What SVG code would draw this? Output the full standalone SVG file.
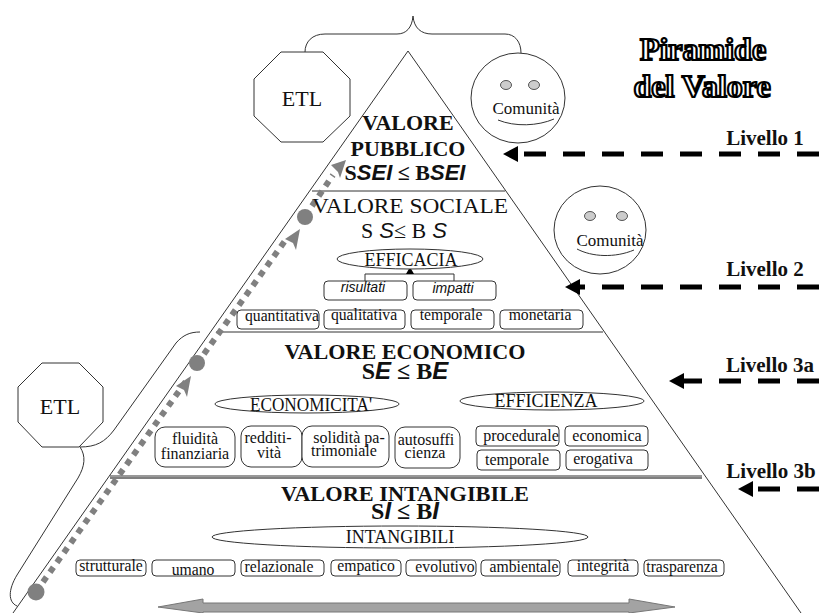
<svg xmlns="http://www.w3.org/2000/svg" width="819" height="613" viewBox="0 0 819 613">
<style>
text{font-family:"Liberation Serif","Times New Roman",serif;fill:#111;text-anchor:middle}
.s{font-family:"Liberation Sans",Arial,sans-serif;font-style:italic}
.b{font-weight:bold}
.l{fill:none;stroke:#333;stroke-width:1}
.n{fill:#fff;stroke:#333;stroke-width:1}
.box{fill:#fff;stroke:#333;stroke-width:1}
.t14{font-size:14px}.t15{font-size:15.7px}.t16{font-size:16px}.t18{font-size:18px}.t21{font-size:21px}.t22{font-size:22px}.t24{font-size:24px}
.eye{fill:#ccc;stroke:#555;stroke-width:1}
.dot{fill:none;stroke:#808080;stroke-width:6;stroke-dasharray:6 6}
.g{fill:#808080}
.dash{stroke:#000;stroke-width:5;stroke-dasharray:22 17;fill:none}
.title{font-size:32px;font-weight:bold;fill:#fff;stroke:#000;stroke-width:2.2}
.lv{font-size:21px;font-weight:bold}
</style>
<g id="connectors">
<path class="l" d="M408 51L13 613M408 51L801 613M312 191H505M216 332H603M110 476H702"/>
<path d="M110 478H702" stroke="#555" stroke-width="1.5" fill="none"/>
<path class="l" d="M305 52C305 42 312 34 325 34H397C406 34 412 28 413 16C414 28 421 34 432 34H505C515 34 521 42 521 53"/>
<path class="l" d="M80 447C96 447 105 442 114 430L176 343C183 335 190 332 200 332"/>
<path class="l" d="M80 447C86 456 85 466 78 478L17 575C8 590 8 602 17 606"/>
<path class="dot" d="M43 582L189 377M204 354L287 238M312 206L333 175"/>
<path class="g" d="M191 376L176 386L184 390L187 397Z"/>
<path class="g" d="M300 229L285 239L293 243L296 250Z"/>
<path class="g" d="M346 160L331 165L338 172L340 178Z"/>
<circle class="g" cx="36" cy="592" r="8.5"/>
<circle class="g" cx="197" cy="363" r="8"/>
<circle class="g" cx="305" cy="217" r="8"/>
<path class="dash" d="M819 154H516M819 287H578M819 381H682M819 489H750"/>
<path d="M503 154L518 146V162ZM565 287L580 279V295ZM669 381L684 373V389ZM738 489L753 481V497Z"/>
<path d="M158 607L203 599V603H629V599L675 607L629 613V612H203V613Z" fill="#a3a3a3" stroke="#777" stroke-width="1"/>
<path class="l" d="M365 283V274H454V283M409 274V270"/>
<path d="M410 267L406 274H414Z"/>
</g>
<g id="title"><text class="title" x="703" y="60">Piramide</text><text class="title" x="702" y="97">del Valore</text></g>
<g id="levels">
<text class="lv" x="765" y="145">Livello 1</text>
<text class="lv" x="765" y="276">Livello 2</text>
<text class="lv" x="770" y="372">Livello 3a</text>
<text class="lv" x="771" y="478">Livello 3b</text>
</g>
<g id="etl1"><path class="n" d="M281 52H323L350 79V116L323 142H281L254 116V79Z"/><text class="t22" x="302" y="106">ETL</text></g>
<g id="comunita1"><ellipse class="n" cx="518" cy="98" rx="47" ry="45"/><ellipse class="eye" cx="506" cy="85" rx="5.5" ry="4.5"/><ellipse class="eye" cx="534" cy="85" rx="5.5" ry="4.5"/><path class="l" d="M498 120C515 127 538 126 554 119"/><text class="t16" x="526" y="114" textLength="67" lengthAdjust="spacingAndGlyphs">Comunità</text></g>
<g id="comunita2"><ellipse class="n" cx="600" cy="230" rx="46" ry="44"/><ellipse class="eye" cx="590" cy="216" rx="5.5" ry="4.5"/><ellipse class="eye" cx="622" cy="216" rx="5.5" ry="4.5"/><path class="l" d="M577 249C592 257 615 258 634 250"/><text class="t16" x="610" y="246" textLength="67" lengthAdjust="spacingAndGlyphs">Comunità</text></g>
<g id="valore-pubblico">
<text class="t22 b" x="408" y="130">VALORE</text><text class="t22 b" x="408" y="156">PUBBLICO</text>
<text class="t22 b" x="405" y="180">S<tspan class="s">SEI</tspan> ≤ B<tspan class="s">SEI</tspan></text>
</g>
<g id="valore-sociale">
<text class="t21" x="410" y="213" textLength="196" lengthAdjust="spacingAndGlyphs">VALORE SOCIALE</text>
<text class="t22" x="404" y="238">S<tspan class="s"> S</tspan>≤ B<tspan class="s"> S</tspan></text>
<ellipse class="n" cx="410" cy="259" rx="73" ry="10"/><text class="t18" x="411" y="266">EFFICACIA</text>
<rect class="box" x="324" y="281" width="83" height="19" rx="4"/><rect class="box" x="413" y="281" width="83" height="19" rx="4"/>
<text class="s t14" x="363" y="292">risultati</text><text class="s t14" x="453" y="293">impatti</text>
<rect class="box" x="237" y="310" width="82" height="19" rx="4"/><rect class="box" x="324" y="310" width="81" height="19" rx="4"/><rect class="box" x="411" y="310" width="83" height="19" rx="4"/><rect class="box" x="500" y="310" width="83" height="19" rx="4"/>
<text class="t15" x="282" y="321">quantitativa</text><text class="t15" x="364" y="320">qualitativa</text><text class="t15" x="451" y="320">temporale</text><text class="t15" x="540" y="320">monetaria</text>
</g>
<g id="valore-economico">
<text class="t21 b" x="405" y="359" textLength="241" lengthAdjust="spacingAndGlyphs">VALORE ECONOMICO</text>
<text class="t24 b" x="405" y="379">S<tspan class="s">E</tspan> ≤ B<tspan class="s">E</tspan></text>
<ellipse class="n" cx="307" cy="404" rx="92" ry="9"/><text class="t18" x="311" y="411" textLength="122" lengthAdjust="spacingAndGlyphs">ECONOMICITA'</text>
<ellipse class="n" cx="552" cy="401" rx="92" ry="9"/><text class="t18" x="546" y="407">EFFICIENZA</text>
<rect class="box" x="155" y="427" width="80" height="40" rx="10"/><rect class="box" x="241" y="426" width="61" height="41" rx="10"/><rect class="box" x="302" y="426" width="87" height="41" rx="10"/><rect class="box" x="395" y="427" width="65" height="41" rx="10"/>
<text class="t16" x="195" y="444">fluidità</text><text class="t16" x="195" y="459">finanziaria</text>
<text class="t16" x="268" y="443">redditi-</text><text class="t16" x="269" y="458">vità</text>
<text class="t16" x="349" y="443">solidità pa-</text><text class="t16" x="344" y="456">trimoniale</text>
<text class="t16" x="426" y="445">autosuffi</text><text class="t16" x="425" y="458">cienza</text>
<rect class="box" x="476" y="426" width="83" height="20" rx="4"/><rect class="box" x="565" y="426" width="83" height="20" rx="4"/><rect class="box" x="477" y="450" width="83" height="20" rx="4"/><rect class="box" x="566" y="450" width="82" height="20" rx="4"/>
<text class="t16" x="521" y="441">procedurale</text><text class="t16" x="607" y="441">economica</text><text class="t16" x="517" y="465">temporale</text><text class="t16" x="603" y="464">erogativa</text>
</g>
<g id="valore-intangibile">
<text class="t21 b" x="405" y="501" textLength="248" lengthAdjust="spacingAndGlyphs">VALORE INTANGIBILE</text>
<text class="t24 b" x="405" y="519">S<tspan class="s">I</tspan> ≤ B<tspan class="s">I</tspan></text>
<ellipse class="n" cx="400" cy="537" rx="188" ry="11"/><text class="t18" x="400" y="543">INTANGIBILI</text>
<rect class="box" x="76" y="560" width="70" height="16" rx="4"/><rect class="box" x="152" y="560" width="83" height="16" rx="4"/><rect class="box" x="241" y="560" width="83" height="16" rx="4"/><rect class="box" x="331" y="560" width="70" height="16" rx="4"/><rect class="box" x="406" y="560" width="70" height="16" rx="4"/><rect class="box" x="481" y="560" width="79" height="16" rx="4"/><rect class="box" x="568" y="560" width="70" height="16" rx="4"/><rect class="box" x="644" y="560" width="80" height="16" rx="4"/>
<text class="t15" x="111" y="571">strutturale</text><text class="t15" x="193" y="575">umano</text><text class="t15" x="279" y="572">relazionale</text><text class="t15" x="366" y="571">empatico</text><text class="t15" x="445" y="572">evolutivo</text><text class="t15" x="524" y="572">ambientale</text><text class="t15" x="603" y="571">integrità</text><text class="t15" x="682" y="572">trasparenza</text>
</g>
<g id="etl2"><path class="n" d="M42 363H79L103 387V422L79 447H42L18 422V387Z"/><text class="t22" x="60" y="414">ETL</text></g>
</svg>
